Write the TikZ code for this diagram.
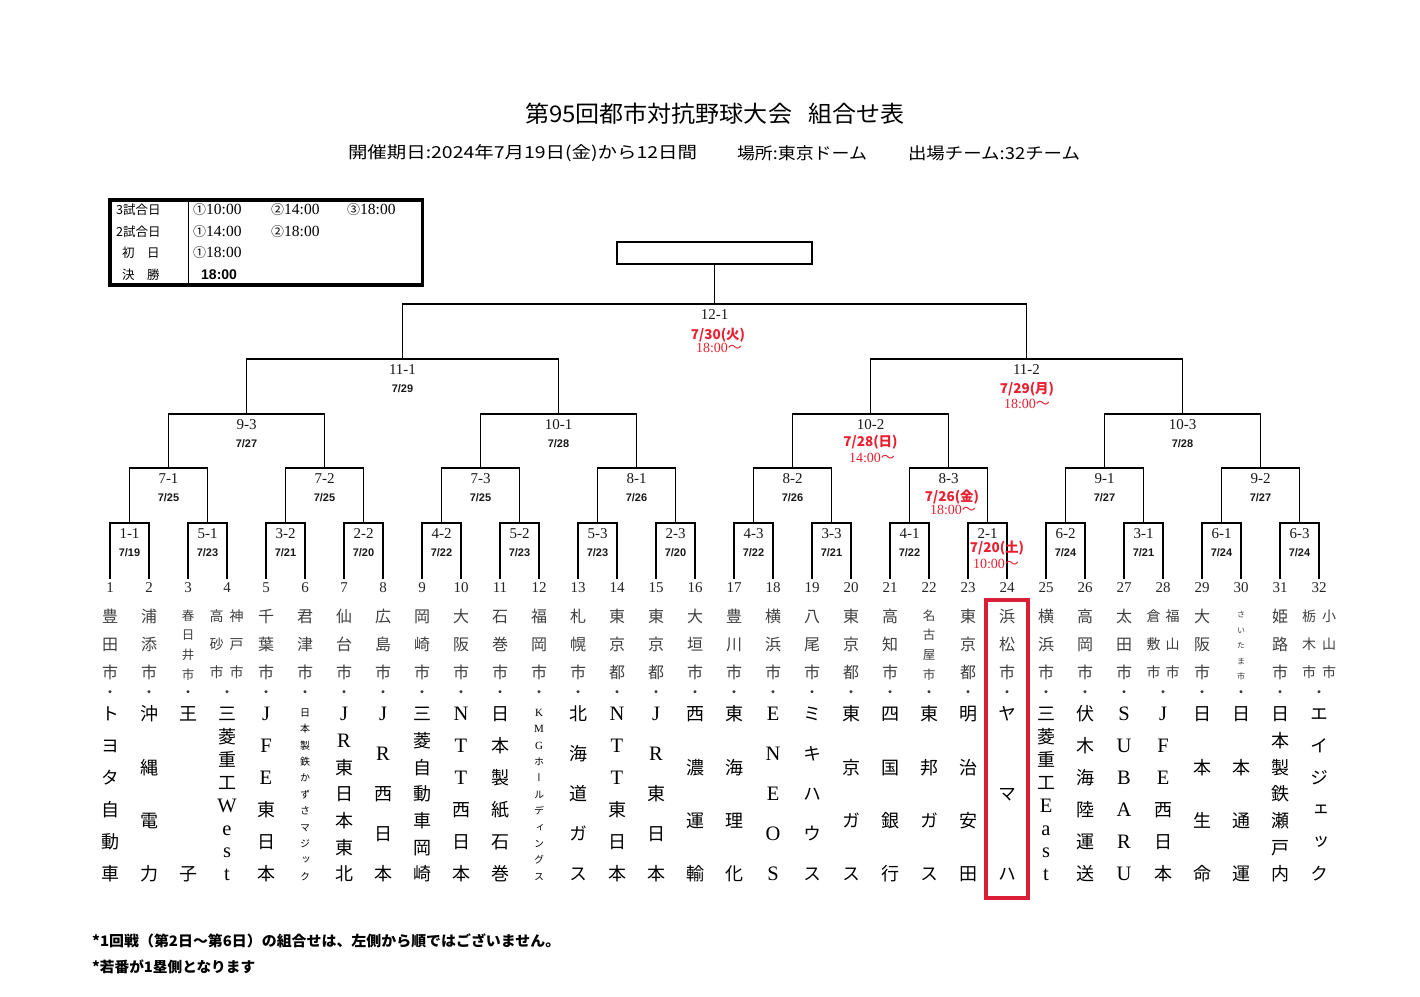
\documentclass[tikz,border=0pt]{standalone}
\usepackage{fontspec}
\usepackage{graphicx}
\setmainfont{Liberation Serif}
\setsansfont{Liberation Sans}
\newfontfamily\jp{Noto Sans CJK JP}
\newfontfamily\jpv{Noto Sans CJK JP}[RawFeature=+vert]
\definecolor{myred}{RGB}{232,32,48}
\definecolor{boxred}{RGB}{218,30,55}
\newcommand\fsz[1]{\fontsize{#1}{#1}\selectfont}
\newcommand\lat{\rmfamily\fsz{20.5}}
\newcommand\lats{\rmfamily\fsz{11}}
\tikzset{
  ct/.style={inner sep=0pt, font=\jpv\fsz{16}, text=black!75, text height=12pt, text depth=1.6pt},
  cts/.style={inner sep=0pt, font=\jpv\fsz{12.5}, text=black!75, text height=9.5pt, text depth=1.2pt},
  ctx/.style={inner sep=0pt, font=\jpv\fsz{8}, text=black!75, text height=6pt, text depth=0.8pt},
  ctd/.style={inner sep=0pt, font=\jpv\fsz{14}, text=black!75, text height=10.5pt, text depth=1.4pt},
  co/.style={inner sep=0pt, font=\jpv\fsz{18}, text height=13.5pt, text depth=2pt},
  cos/.style={inner sep=0pt, font=\jpv\fsz{10}, text height=7.5pt, text depth=1pt},
  dotf/.style={inner sep=0pt, font=\jp\fsz{14}, text=black!80},
  num/.style={inner sep=0pt, font=\rmfamily\fsz{15}, text=black!85},
  br/.style={line width=1.3pt},
  mlab/.style={inner sep=0pt, font=\rmfamily\fsz{15}, text=black!90},
  mdate/.style={inner sep=0pt, font=\sffamily\bfseries\fsz{11}, text=black!90},
  rdate/.style={inner sep=0pt, font=\jp\bfseries\fsz{13.5}, text=myred},
  rtime/.style={inner sep=0pt, font=\rmfamily\fsz{14}, text=myred},
  bx/.style={inner sep=0pt, font=\jp\fsz{12.5}},
  tmf/.style={inner sep=0pt, anchor=west}
}
\newcommand\vcol[6]{%
  \foreach \vv [count=\n] in {#6} {\xdef\vcolN{\n}}%
  \foreach \vv [count=\n] in {#6} {%
    \pgfmathsetmacro\yy{#3+(#4-#3)*(\n-1)/(\vcolN-1)}%
    \node[#5] (c#1-\n) at (#2,\yy) {\vv};}%
}
\newcommand\team[4]{%
  \vcol{#1a}{#2}{617}{673}{ct}{#3}
  \node[dotf] (p#1) at (#2,694) {・};
  \vcol{#1b}{#2}{715}{875}{co}{#4}}
\newcommand\ml[3]{\path (b#1) ++(0,11) node[mlab] (l#1) {#2} ++(0,19) node[mdate] (d#1) {#3};}
\newcommand\mr[8]{%
  \path (b#1) ++(0,11) node[mlab] (l#1) {#2};
  \path (b#1) ++(#5,#6) node[rdate] (d#1) {#3};
  \path (b#1) ++(#7,#8) node[rtime] (t#1) {#4{\jp ～}};}
\newcommand\tm[2]{{\jp\fsz{13}#1}{\rmfamily\fsz{15.5}#2}}
\begin{document}
\begin{tikzpicture}[x=1pt,y=-1pt]
\fill[white] (0,0) rectangle (1420,996);
\useasboundingbox (0,0) rectangle (1420,996);
% title
\node[inner sep=0pt] (title) at (715,114) {\resizebox{380pt}{\height}{\jp\fsz{23}第95回都市対抗野球大会\hspace{0.7em}組合せ表}};
\node[inner sep=0pt] (s1) at (522.5,153) {\resizebox{349pt}{\height}{\jp\fsz{16.5}開催期日:2024年7月19日(金)から12日間}};
\node[inner sep=0pt] (s2) at (802,153) {\resizebox{130pt}{\height}{\jp\fsz{16.5}場所:東京ドーム}};
\node[inner sep=0pt] (s3) at (994,153) {\resizebox{172pt}{\height}{\jp\fsz{16.5}出場チーム:32チーム}};
% schedule box
\node[draw, line width=3.3pt, minimum width=312.5pt, minimum height=85pt, inner sep=0pt] (sched) at (266.25,242.5) {};
\coordinate (dv) at (188,0);
\draw[line width=1pt] (sched.north -| dv) -- (sched.south -| dv);
\node[bx, anchor=west] (r1) at (116,210) {3試合日};
\node[bx, anchor=west] (r2) at (116,231.5) {2試合日};
\node[bx, anchor=west] (r3) at (122,253) {初　日};
\node[bx, anchor=west] (r4) at (122,275) {決　勝};
\node[tmf] (t11) at (193,210) {\tm{①}{10:00}};
\node[tmf] (t12) at (271,210) {\tm{②}{14:00}};
\node[tmf] (t13) at (347,210) {\tm{③}{18:00}};
\node[tmf] (t21) at (193,231.5) {\tm{①}{14:00}};
\node[tmf] (t22) at (271,231.5) {\tm{②}{18:00}};
\node[tmf] (t31) at (193,253) {\tm{①}{18:00}};
\node[tmf] (t41) at (201,275) {\sffamily\bfseries\fsz{14}18:00};
% final box
\node[draw, line width=1.3pt, minimum width=195pt, minimum height=22pt, inner sep=0pt] (final) at (714.5,253) {};
% numbers and bracket leaves
\foreach \i in {1,...,32} {
  \pgfmathsetmacro\xx{110+39*(\i-1)}
  \node[num] (n\i) at (\xx,588) {\i};
  \coordinate (b0-\i) at (\xx,579);
}
\foreach \L/\yt in {1/523,2/468,3/414,4/359,5/304} {
  \pgfmathtruncatemacro\K{32/(2^\L)}
  \pgfmathtruncatemacro\P{\L-1}
  \foreach \k in {1,...,\K} {
    \pgfmathsetmacro\xc{110+39*((\k-1)*(2^\L)+((2^\L)-1)/2)}
    \pgfmathtruncatemacro\ka{2*\k-1}
    \pgfmathtruncatemacro\kb{2*\k}
    \coordinate (b\L-\k) at (\xc,\yt);
    \draw[br] (b\P-\ka) |- (b\L-\k) -| (b\P-\kb);
  }
}
\draw[br] (final.south) -- (b5-1);
% match labels
\ml{1-1}{1-1}{7/19} \ml{1-2}{5-1}{7/23} \ml{1-3}{3-2}{7/21} \ml{1-4}{2-2}{7/20}
\ml{1-5}{4-2}{7/22} \ml{1-6}{5-2}{7/23} \ml{1-7}{5-3}{7/23} \ml{1-8}{2-3}{7/20}
\ml{1-9}{4-3}{7/22} \ml{1-10}{3-3}{7/21} \ml{1-11}{4-1}{7/22}
\ml{1-13}{6-2}{7/24} \ml{1-14}{3-1}{7/21} \ml{1-15}{6-1}{7/24} \ml{1-16}{6-3}{7/24}
\ml{2-1}{7-1}{7/25} \ml{2-2}{7-2}{7/25} \ml{2-3}{7-3}{7/25} \ml{2-4}{8-1}{7/26}
\ml{2-5}{8-2}{7/26} \ml{2-7}{9-1}{7/27} \ml{2-8}{9-2}{7/27}
\ml{3-1}{9-3}{7/27} \ml{3-2}{10-1}{7/28} \ml{3-4}{10-3}{7/28}
\ml{4-1}{11-1}{7/29}
\mr{1-12}{2-1}{7/20(土)}{10:00}{9.5}{25}{8.5}{41}
\mr{2-6}{8-3}{7/26(金)}{18:00}{3.5}{29}{4.5}{42}
\mr{3-3}{10-2}{7/28(日)}{14:00}{0}{28}{1.5}{44}
\mr{4-2}{11-2}{7/29(月)}{18:00}{0.5}{30}{0.5}{45}
\mr{5-1}{12-1}{7/30(火)}{18:00}{3.5}{31}{4.5}{44}
% teams
\team{1}{110}{豊,田,市}{ト,ヨ,タ,自,動,車}
\team{2}{149}{浦,添,市}{沖,縄,電,力}
\vcol{3a}{188}{616}{675}{cts}{春,日,井,市}
\node[dotf] (p3) at (188,694) {・};
\vcol{3b}{188}{715}{875}{co}{王,子}
\vcol{4a}{216.5}{617}{673}{ctd}{高,砂,市}
\vcol{4c}{236.5}{617}{673}{ctd}{神,戸,市}
\node[dotf] (p4) at (227,694) {・};
\vcol{4b}{227}{715}{875}{co}{三,菱,重,工,\lat W,\lat e,\lat s,\lat t}
\team{5}{266}{千,葉,市}{\lat J,\lat F,\lat E,東,日,本}
\vcol{6a}{305}{617}{673}{ct}{君,津,市}
\node[dotf] (p6) at (305,694) {・};
\vcol{6b}{305}{713}{877}{cos}{日,本,製,鉄,か,ず,さ,マ,ジ,ッ,ク}
\team{7}{344}{仙,台,市}{\lat J,\lat R,東,日,本,東,北}
\team{8}{383}{広,島,市}{\lat J,\lat R,西,日,本}
\team{9}{422}{岡,崎,市}{三,菱,自,動,車,岡,崎}
\team{10}{461}{大,阪,市}{\lat N,\lat T,\lat T,西,日,本}
\team{11}{500}{石,巻,市}{日,本,製,紙,石,巻}
\vcol{12a}{539}{617}{673}{ct}{福,岡,市}
\node[dotf] (p12) at (539,694) {・};
\vcol{12b}{539}{713}{877}{cos}{\lats K,\lats M,\lats G,ホ,ー,ル,デ,ィ,ン,グ,ス}
\team{13}{578}{札,幌,市}{北,海,道,ガ,ス}
\team{14}{617}{東,京,都}{\lat N,\lat T,\lat T,東,日,本}
\team{15}{656}{東,京,都}{\lat J,\lat R,東,日,本}
\team{16}{695}{大,垣,市}{西,濃,運,輸}
\team{17}{734}{豊,川,市}{東,海,理,化}
\team{18}{773}{横,浜,市}{\lat E,\lat N,\lat E,\lat O,\lat S}
\team{19}{812}{八,尾,市}{ミ,キ,ハ,ウ,ス}
\team{20}{851}{東,京,都}{東,京,ガ,ス}
\team{21}{890}{高,知,市}{四,国,銀,行}
\vcol{22a}{929}{616}{675}{cts}{名,古,屋,市}
\node[dotf] (p22) at (929,694) {・};
\vcol{22b}{929}{715}{875}{co}{東,邦,ガ,ス}
\team{23}{968}{東,京,都}{明,治,安,田}
\team{24}{1007}{浜,松,市}{ヤ,マ,ハ}
\team{25}{1046}{横,浜,市}{三,菱,重,工,\lat E,\lat a,\lat s,\lat t}
\team{26}{1085}{高,岡,市}{伏,木,海,陸,運,送}
\team{27}{1124}{太,田,市}{\lat S,\lat U,\lat B,\lat A,\lat R,\lat U}
\vcol{28a}{1153.5}{617}{673}{ctd}{倉,敷,市}
\vcol{28c}{1172.5}{617}{673}{ctd}{福,山,市}
\node[dotf] (p28) at (1163,694) {・};
\vcol{28b}{1163}{715}{875}{co}{\lat J,\lat F,\lat E,西,日,本}
\team{29}{1202}{大,阪,市}{日,本,生,命}
\vcol{30a}{1241}{615}{677}{ctx}{さ,い,た,ま,市}
\node[dotf] (p30) at (1241,694) {・};
\vcol{30b}{1241}{715}{875}{co}{日,本,通,運}
\team{31}{1280}{姫,路,市}{日,本,製,鉄,瀬,戸,内}
\vcol{32a}{1309}{617}{673}{ctd}{栃,木,市}
\vcol{32c}{1329}{617}{673}{ctd}{小,山,市}
\node[dotf] (p32) at (1319,694) {・};
\vcol{32b}{1319}{715}{875}{co}{エ,イ,ジ,ェ,ッ,ク}
% highlight
\node[draw=boxred, line width=4pt, minimum width=42pt, minimum height=297.5pt, inner sep=0pt] (hl) at (1006.5,748.75) {};
% footer
\node[anchor=west, inner sep=0pt] (f1) at (92,941) {\resizebox{468pt}{\height}{\jp\bfseries\fsz{14.5}*1回戦（第2日～第6日）の組合せは、左側から順ではございません。}};
\node[anchor=west, inner sep=0pt] (f2) at (92,967) {\resizebox{163pt}{\height}{\jp\bfseries\fsz{14.5}*若番が1塁側となります}};
\end{tikzpicture}
\end{document}
